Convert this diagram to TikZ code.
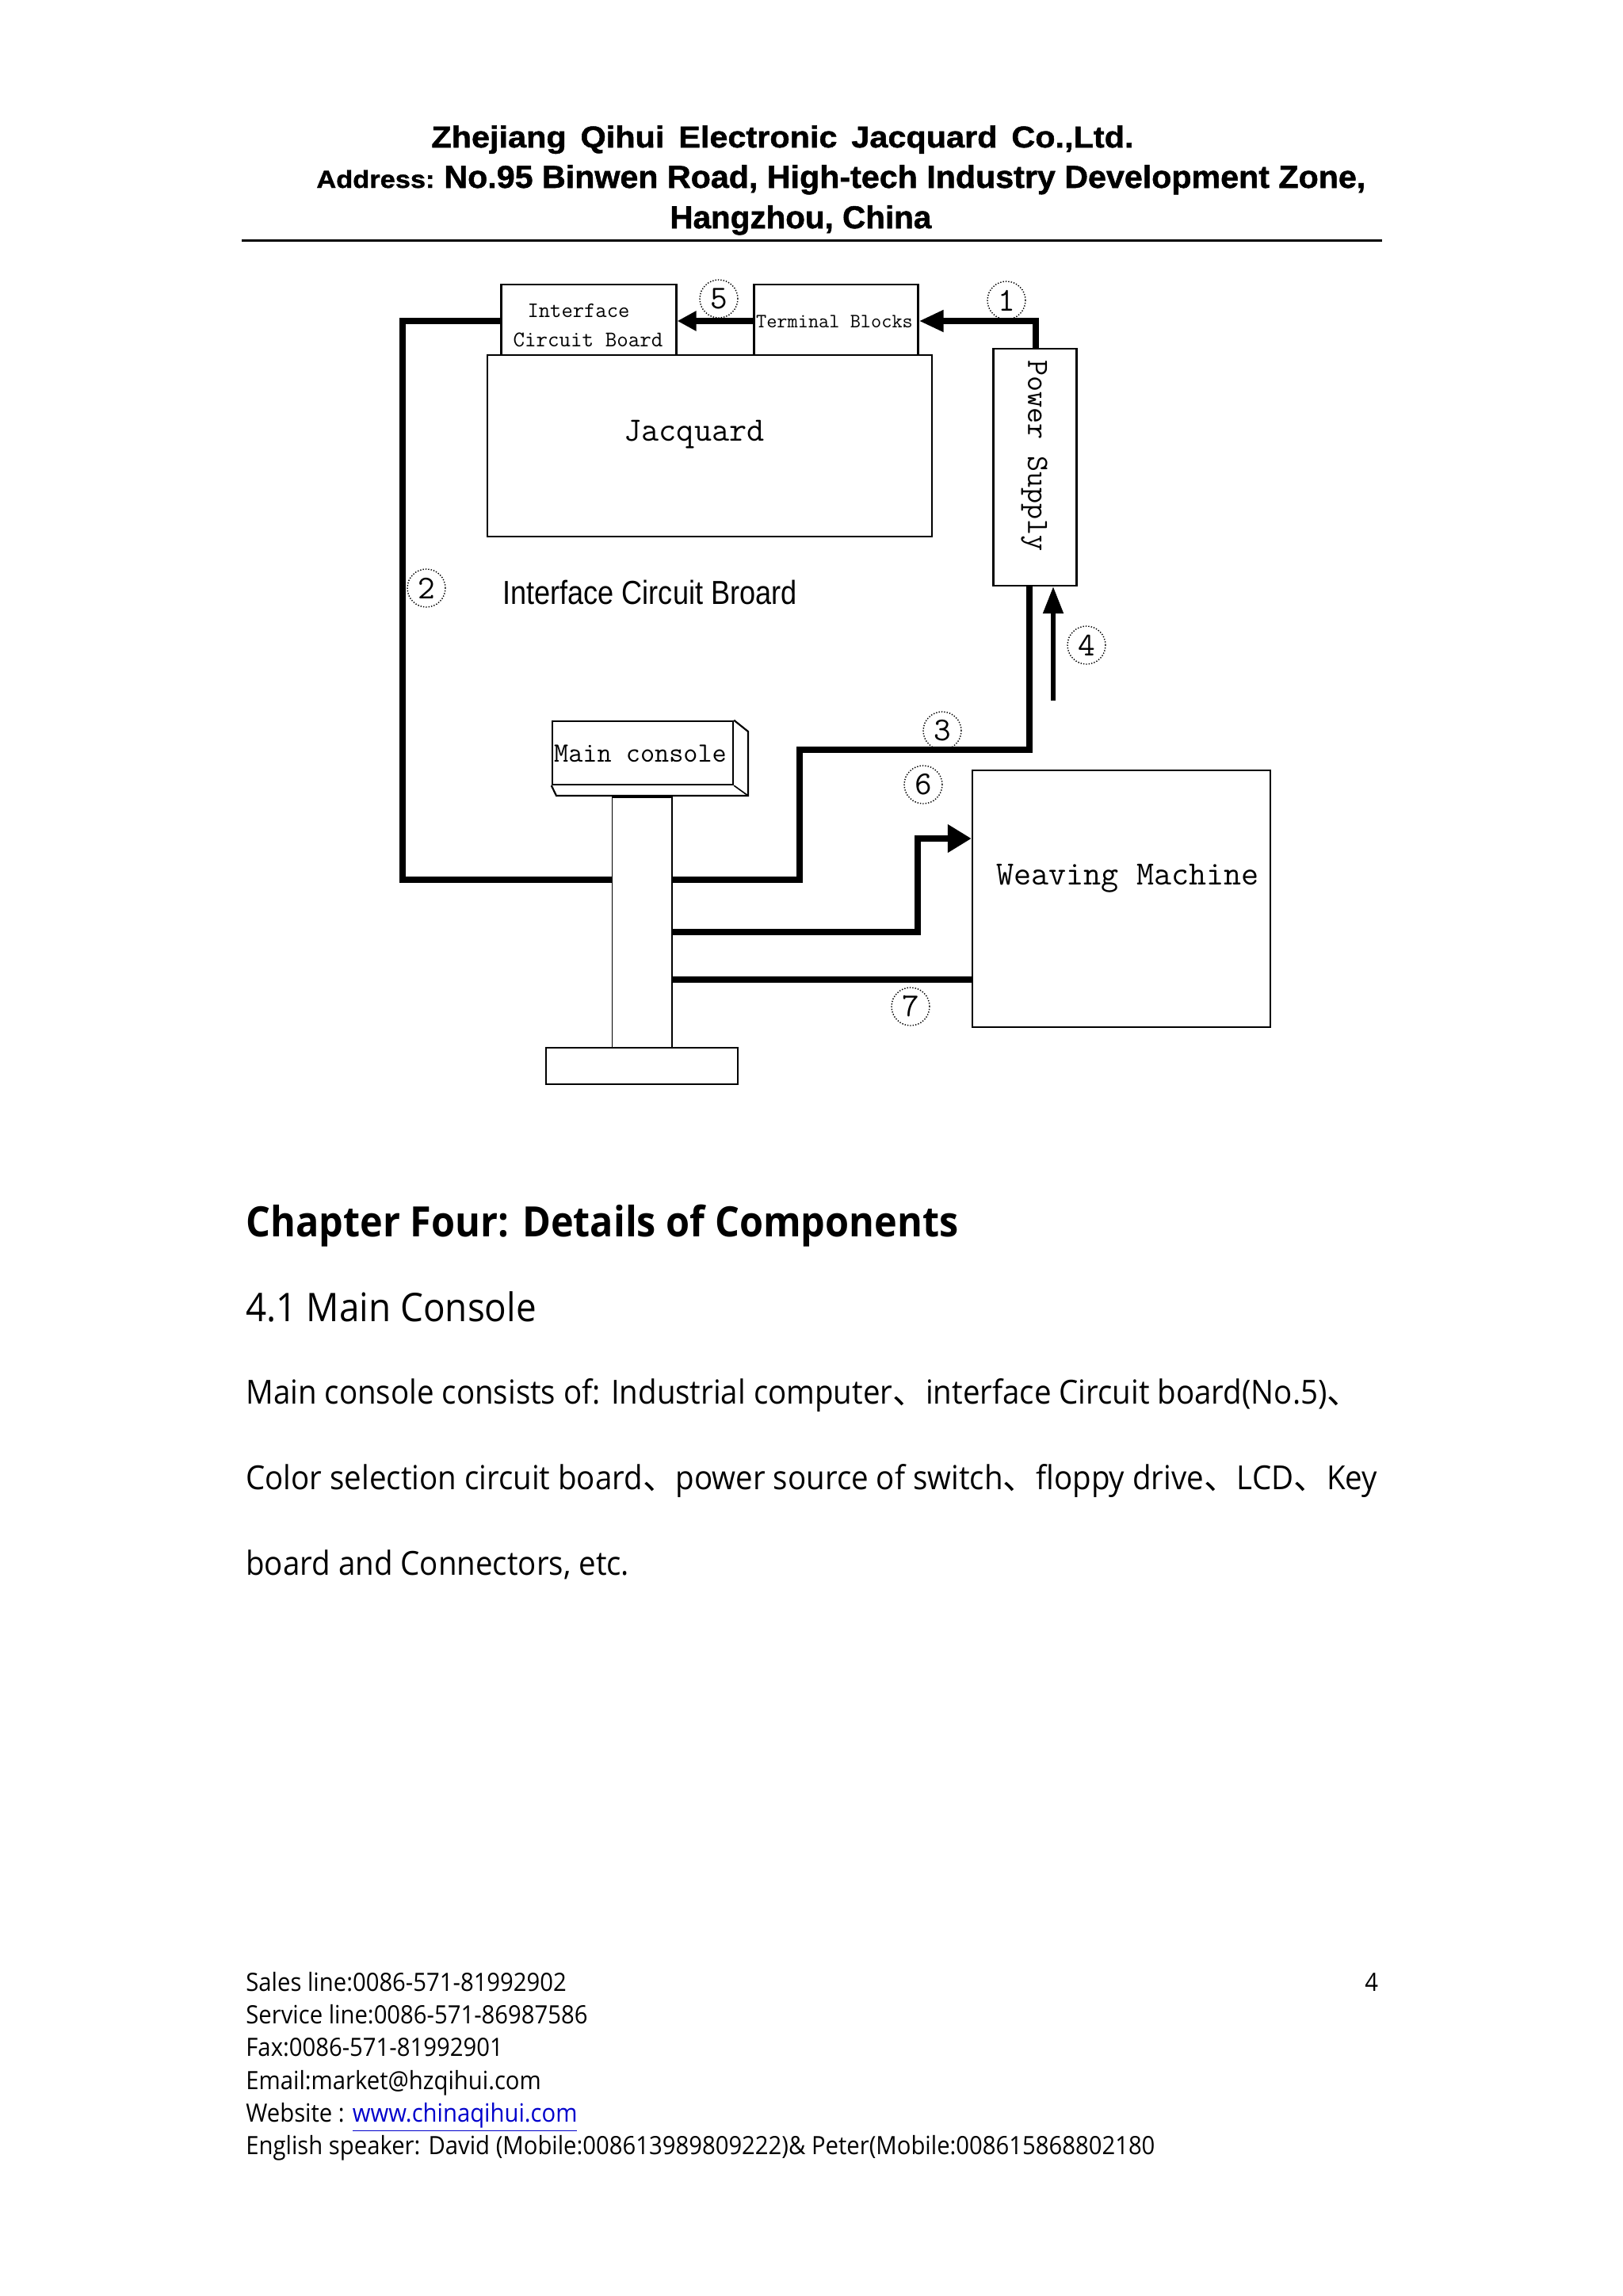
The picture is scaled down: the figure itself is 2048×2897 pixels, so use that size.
\documentclass[tikz,border=0pt]{standalone}
\usepackage{fontspec}
\setmainfont[FakeStretch=0.92]{Open Sans}
\setmonofont{Latin Modern Mono}
\newfontfamily\headA[UprightFont=* Bold,FakeStretch=1.09,FakeBold=1.3]{Liberation Sans}
\newfontfamily\headB[UprightFont=* Bold,FakeStretch=1.03,FakeBold=1.3]{Liberation Sans}
\newfontfamily\headD[UprightFont=* Bold,FakeStretch=1.01,FakeBold=1.3]{Liberation Sans}
\newfontfamily\headC[UprightFont=* Bold,FakeStretch=1.11,FakeBold=1.3]{Liberation Sans}
\newfontfamily\thinfont{Liberation Sans}
\newfontfamily\cjkfont{Noto Sans CJK SC}
\newcommand{\dun}{{\cjkfont 、}}
\usetikzlibrary{arrows.meta}
\definecolor{linkblue}{RGB}{0,0,204}
\tikzset{
  box/.style={draw=black,line width=1.2pt,fill=none,inner sep=0pt},
  wire/.style={draw=black,line width=3.8pt,line join=miter},
  headone/.style={-{Triangle[length=15.5pt,width=13pt]}},
  headfive/.style={-{Triangle[length=12pt,width=12pt]}},
  headfour/.style={-{Triangle[length=17pt,width=12.5pt]}},
  headsix/.style={-{Triangle[length=15pt,width=17pt]}},
  num/.style={draw=black,densely dotted,line width=.7pt,circle,minimum size=24pt,inner sep=0pt,font=\ttfamily\fontsize{21}{21}\selectfont},
  mono/.style={inner sep=0pt},
  page/.style={anchor=base west,inner sep=0pt},
  hd/.style={anchor=base west,inner sep=0pt},
  body/.style={page,font=\fontsize{20.9}{22}\selectfont},
  foot/.style={page,font=\fontsize{15.9}{16}\selectfont}
}
\begin{document}
\begin{tikzpicture}[x=0.5pt,y=-0.5pt]
\useasboundingbox (0,0) rectangle (2048,2897);
\fill[white] (0,0) rectangle (2048,2897);
% header
\node[hd,font=\headA\fontsize{19}{19}\selectfont] (h1) at (544,186) {Zhejiang\, Qihui\, Electronic\, Jacquard\, Co.,Ltd.};
\node[hd,font=\headC\fontsize{15.5}{15.5}\selectfont] (h2a) at (399,237) {Address:};
\node[hd,font=\headB\fontsize{20}{20}\selectfont] (h2b) at (560,237) {No.95 Binwen Road, High-tech Industry Development Zone,};
\node[hd,font=\headD\fontsize{20}{20}\selectfont] (h3) at (845,288) {Hangzhou, China};
\draw[line width=1.3pt] (305,303.5) -- (1744,303.5);
% boxes
\node[box,minimum width=110.5pt,minimum height=44.75pt] (icb) at (743,403.5) {};
\node[box,minimum width=103.5pt,minimum height=44.75pt] (tb) at (1055,403.5) {};
\node[box,minimum width=280.5pt,minimum height=114.5pt] (jq) at (895.5,562.5) {};
\node[box,minimum width=52.5pt,minimum height=149.5pt] (ps) at (1306,589.5) {};
\node[box,minimum width=188pt,minimum height=162pt] (wm) at (1415,1134) {};
\node[box,minimum width=114pt,minimum height=40pt] (mc) at (811,950) {};
\node[box,line width=.9pt,minimum width=37.6pt,minimum height=158pt] (col) at (810,1164) {};
\node[box,minimum width=121pt,minimum height=23pt] (base) at (810,1345) {};
\coordinate (mcA) at (944,923);
\coordinate (mcB) at (944,1004);
\coordinate (mcC) at (702,1004);
\draw[line width=1.1pt] (mc.north east) -- (mcA) -- (mcB) -- (mcC) -- (mc.south west);
\draw[line width=.8pt] (mc.south east) -- (mcB);
% box labels
\node[mono,font=\ttfamily\bfseries\fontsize{13.9}{14}\selectfont] (t1) at (730,392) {Interface};
\node[mono,font=\ttfamily\bfseries\fontsize{14.1}{14}\selectfont] (t2) at (742,429) {Circuit Board};
\node[mono,font=\ttfamily\bfseries\fontsize{12.8}{14}\selectfont] (t3) at (1053,406) {Terminal Blocks};
\node[mono,font=\ttfamily\fontsize{21.5}{24}\selectfont] (t4) at (876,548) {Jacquard};
\node[mono,rotate=-90,font=\ttfamily\bfseries\fontsize{19.5}{20}\selectfont] (t5) at (1305,575) {Power Supply};
\node[mono,font=\ttfamily\bfseries\fontsize{17.6}{18}\selectfont] (t6) at (808,951) {Main console};
\node[mono,font=\ttfamily\fontsize{21.4}{22}\selectfont] (t7) at (1423,1108) {Weaving Machine};
\node[inner sep=0pt,xscale=.86,transform shape,font=\thinfont\fontsize{21}{22}\selectfont] (t8) at (820,747) {Interface Circuit Broard};
% connectors
\coordinate (w1a) at (1307,440);
\coordinate (w1b) at (1307,405);
\coordinate (w2a) at (508,405);
\coordinate (w2b) at (508,1110);
\coordinate (w3a) at (1299,946);
\coordinate (w3b) at (1009,946);
\coordinate (w3c) at (1009,1110);
\coordinate (w4) at (1329,884);
\coordinate (w6a) at (1158,1176);
\coordinate (w6b) at (1158,1058);
\coordinate (w7) at (848,1236);
\draw[wire,headone] (w1a) -- (w1b) -- (tb.east |- w1b);
\draw[wire,headfive] (tb.west |- w1b) -- (icb.east |- w1b);
\draw[wire] (icb.west |- w2a) -- (w2a) -- (w2b) -- (col.west |- w2b);
\draw[wire] (col.east |- w3c) -- (w3c) -- (w3b) -- (w3a) -- (ps.south -| w3a);
\draw[draw=black,line width=2.6pt,headfour] (w4) -- (w4 |- ps.south);
\draw[wire,headsix] (col.east |- w6a) -- (w6a) -- (w6b) -- (wm.west |- w6b);
\draw[wire] (w7) -- (wm.west |- w7);
% numbers
\node[num] (n1) at (1270,379) {1};
\node[num] (n2) at (538,742) {2};
\node[num] (n3) at (1189,922) {3};
\node[num] (n4) at (1371,814) {4};
\node[num] (n5) at (907,377) {5};
\node[num] (n6) at (1165,990) {6};
\node[num] (n7) at (1149,1270) {7};
% body
\node[page,font=\bfseries\fontsize{26.4}{27}\selectfont] (c) at (310,1560) {Chapter Four: Details of Components};
\node[page,font=\fontsize{24.9}{26}\selectfont] (s) at (310,1667) {4.1 Main Console};
\node[body] (b1) at (310,1771) {Main console consists of: Industrial computer\dun interface Circuit board(No.5)\dun};
\node[body] (b2) at (310,1879) {Color selection circuit board\dun power source of switch\dun floppy drive\dun LCD\dun Key};
\node[body] (b3) at (310,1987) {board and Connectors, etc.};
% footer
\node[foot] (f1) at (310,2512.5) {Sales line:0086-571-81992902};
\node[foot] (f0) at (1722,2512.5) {4};
\node[foot] (f2) at (310,2553.5) {Service line:0086-571-86987586};
\node[foot] (f3) at (310,2594.5) {Fax:0086-571-81992901};
\node[foot] (f4) at (310,2636.5) {Email:market@hzqihui.com};
\node[foot] (f5) at (310,2677.5) {Website : \textcolor{linkblue}{\underline{www.chinaqihui.com}}};
\node[foot] (f6) at (310,2718.5) {English speaker: David (Mobile:008613989809222)\& Peter(Mobile:008615868802180};
\end{tikzpicture}
\end{document}
